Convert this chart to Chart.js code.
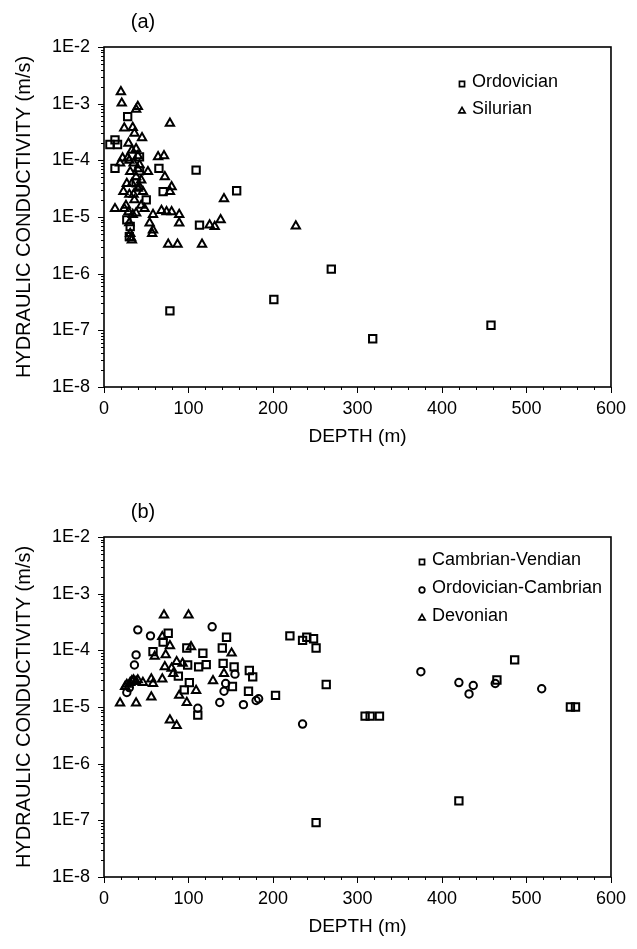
<!DOCTYPE html>
<html><head><meta charset="utf-8">
<script src="https://cdn.jsdelivr.net/npm/chart.js@4"></script>
<style>
html,body{margin:0;padding:0;background:#fff;}
.panel{position:absolute;left:0;width:637px;height:459px;}
</style></head><body>
<div class="panel" style="top:0"><canvas id="ca" width="637" height="459"></canvas></div>
<div class="panel" style="top:490px"><canvas id="cb" width="637" height="459"></canvas></div>
<script>
// ---------- text / ticks ----------
const panelLabels = ['(a)', '(b)'];
const yTickValues = [1e-8, 1e-7, 1e-6, 1e-5, 1e-4, 1e-3, 1e-2];
const yTickLabels = ['1E-8', '1E-7', '1E-6', '1E-5', '1E-4', '1E-3', '1E-2'];
const xTickValues = [0, 100, 200, 300, 400, 500, 600];
const xTitle = 'DEPTH (m)';
const yTitle = 'HYDRAULIC CONDUCTIVITY (m/s)';

// ---------- panel (a) ----------
const aOrdovicianDepth = [13, 7, 16, 28, 13, 42, 65, 109, 50, 70, 27, 31, 30, 113, 157, 78, 201, 269, 318, 458, 38, 42];
const aOrdovicianK = [2.3e-4, 1.9e-4, 1.9e-4, 5.9e-4, 7.2e-5, 1.15e-4, 7.2e-5, 6.7e-5, 2.0e-5, 2.8e-5, 8.9e-6, 6.8e-6, 4.5e-6, 7.2e-6, 2.9e-5, 2.2e-7, 3.5e-7, 1.2e-6, 7.1e-8, 1.23e-7, 4.0e-5, 6.5e-5];

const aSilurianDepth = [20, 21, 40, 38, 78, 24, 34, 36, 29, 33, 38, 40, 19, 64, 71, 72, 35, 42, 52, 31, 38, 33, 42, 27, 23, 35, 46, 36, 80, 78, 13, 24, 29, 38, 48, 58, 68, 74, 80, 89, 89, 54, 58, 57, 31, 33, 125, 131, 138, 142, 76, 87, 116, 227, 32, 28, 30, 40, 44, 30, 40, 26, 44, 34, 30, 45, 22];
const aSilurianK = [1.62e-3, 1.02e-3, 8.9e-4, 7.9e-4, 4.5e-4, 3.7e-4, 3.8e-4, 3.0e-4, 2.0e-4, 1.5e-4, 1.6e-4, 1.2e-4, 8.9e-5, 1.15e-4, 1.2e-4, 5.1e-5, 8.9e-5, 8.3e-5, 6.3e-5, 6.3e-5, 5.1e-5, 3.9e-5, 3.4e-5, 3.9e-5, 2.8e-5, 2.5e-5, 2.8e-5, 2.0e-5, 3.4e-5, 2.8e-5, 1.4e-5, 1.4e-5, 1.23e-5, 1.17e-5, 1.4e-5, 1.1e-5, 1.3e-5, 1.23e-5, 1.23e-5, 1.1e-5, 7.8e-6, 7.8e-6, 5.9e-6, 5.1e-6, 5.1e-6, 3.9e-6, 7.2e-6, 6.8e-6, 8.9e-6, 2.1e-5, 3.3e-6, 3.3e-6, 3.3e-6, 6.9e-6, 4.3e-6, 1.1e-4, 1.0e-4, 7.1e-5, 4.5e-5, 2.5e-5, 3.2e-5, 1.6e-5, 1.6e-5, 1.1e-5, 7.9e-6, 2.5e-4, 1.1e-4];

// ---------- panel (b) ----------
const bCambVendDepth = [76, 70, 58, 98, 117, 145, 140, 121, 112, 99, 141, 154, 172, 176, 88, 101, 95, 152, 171, 111, 220, 235, 240, 248, 251, 263, 203, 486, 251, 309, 315, 326, 420, 465, 552, 558];
const bCambVendK = [2.0e-4, 1.4e-4, 9.5e-5, 1.1e-4, 8.9e-5, 1.7e-4, 1.1e-4, 5.6e-5, 5.1e-5, 5.5e-5, 5.9e-5, 5.1e-5, 4.4e-5, 3.4e-5, 3.5e-5, 2.7e-5, 2.0e-5, 2.3e-5, 1.9e-5, 7.2e-6, 1.8e-4, 1.5e-4, 1.7e-4, 1.6e-4, 1.1e-4, 2.5e-5, 1.6e-5, 6.8e-5, 9.1e-8, 6.9e-6, 6.9e-6, 6.9e-6, 2.2e-7, 3.0e-5, 1.0e-5, 1.0e-5];

const bOrdCambDepth = [40, 55, 128, 38, 36, 155, 144, 142, 137, 165, 180, 27, 111, 183, 375, 235, 420, 432, 437, 463, 518, 30];
const bOrdCambK = [2.3e-4, 1.8e-4, 2.6e-4, 8.3e-5, 5.5e-5, 3.8e-5, 2.6e-5, 1.9e-5, 1.2e-5, 1.1e-5, 1.3e-5, 1.8e-5, 9.5e-6, 1.4e-5, 4.2e-5, 5.0e-6, 2.7e-5, 1.7e-5, 2.4e-5, 2.6e-5, 2.1e-5, 2.2e-5];

const bDevonianDepth = [71, 100, 69, 78, 73, 60, 103, 151, 72, 80, 82, 86, 93, 31, 38, 46, 56, 58, 69, 129, 142, 109, 89, 98, 56, 19, 38, 78, 86, 25, 33, 35, 40, 27];
const bDevonianK = [4.2e-4, 4.2e-4, 1.74e-4, 1.2e-4, 8.3e-5, 7.8e-5, 1.15e-4, 8.9e-5, 5.1e-5, 4.8e-5, 3.9e-5, 6.3e-5, 5.9e-5, 2.7e-5, 2.8e-5, 2.7e-5, 3.1e-5, 2.6e-5, 3.1e-5, 2.9e-5, 3.9e-5, 1.95e-5, 1.6e-5, 1.2e-5, 1.5e-5, 1.17e-5, 1.17e-5, 5.9e-6, 4.7e-6, 2.3e-5, 2.9e-5, 3.0e-5, 3.0e-5, 2.5e-5];

// ---------- drawing ----------
const FONT = '"Liberation Sans", Arial, Helvetica, sans-serif';

function pts(d, k) { return d.map((x, i) => ({ x: x, y: k[i] })); }

const markerStyle = {
  rect: { r: 5.2, lr: 3.6 },
  circle: { r: 3.7, lr: 2.8 },
  triangle: { r: 4.8, lr: 3.6 }
};

function drawMarker(ctx, style, x, y, r) {
  ctx.beginPath();
  if (style === 'rect') {
    const s = r * Math.SQRT1_2;
    ctx.rect(x - s, y - s, 2 * s, 2 * s);
  } else if (style === 'circle') {
    ctx.arc(x, y, r, 0, Math.PI * 2);
  } else {
    ctx.moveTo(x, y - r);
    ctx.lineTo(x + r * 0.866, y + r * 0.5);
    ctx.lineTo(x - r * 0.866, y + r * 0.5);
    ctx.closePath();
  }
  ctx.stroke();
}

const framePlugin = {
  id: 'frame',
  afterDraw(chart, args, opts) {
    const ctx = chart.ctx, a = chart.chartArea, xs = chart.scales.x, ys = chart.scales.y;
    ctx.save();
    ctx.strokeStyle = '#000';
    ctx.lineWidth = 1.6;
    ctx.strokeRect(a.left, a.top, a.right - a.left, a.bottom - a.top);
    ctx.lineWidth = 1;
    ctx.beginPath();
    for (let e = -8; e <= -2; e++) {
      for (let m = 1; m <= 9; m++) {
        if (e === -2 && m > 1) break;
        const py = Math.round(ys.getPixelForValue(m * Math.pow(10, e))) + 0.5;
        const len = m === 1 ? 6 : 3;
        ctx.moveTo(a.left - len, py); ctx.lineTo(a.left, py);
      }
    }
    for (let v = xs.min; v <= xs.max; v += 20) {
      const px = Math.round(xs.getPixelForValue(v)) + 0.5;
      const len = v % 100 === 0 ? 6 : 3;
      ctx.moveTo(px, a.bottom); ctx.lineTo(px, a.bottom + len);
    }
    ctx.stroke();
    // panel label
    ctx.fillStyle = '#000';
    ctx.font = '20px ' + FONT;
    ctx.textAlign = 'center';
    ctx.textBaseline = 'middle';
    ctx.fillText(opts.label, a.left + 39, 22);
    // legend
    ctx.font = '18px ' + FONT;
    ctx.textAlign = 'left';
    chart.data.datasets.forEach((ds, i) => {
      const ly = opts.legendY + i * opts.legendGap;
      ctx.lineWidth = 1.7;
      drawMarker(ctx, ds.pointStyle, opts.legendX, ly + 2, markerStyle[ds.pointStyle].lr);
      ctx.fillText(ds.label, opts.legendX + 10, ly);
    });
    ctx.restore();
  }
};

function ds(label, style, d, k) {
  return {
    label: label,
    data: pts(d, k),
    pointStyle: style,
    pointRadius: markerStyle[style].r,
    pointHoverRadius: markerStyle[style].r,
    pointBorderWidth: 2,
    borderColor: '#000',
    backgroundColor: 'rgba(0,0,0,0)',
    pointBackgroundColor: 'rgba(0,0,0,0)',
    showLine: false
  };
}

function makeChart(id, datasets, label, legendX, legendY, legendGap) {
  return new Chart(document.getElementById(id), {
    type: 'scatter',
    data: { datasets: datasets },
    plugins: [framePlugin],
    options: {
      responsive: false,
      animation: false,
      devicePixelRatio: 1,
      events: [],
      layout: { padding: { top: 47, right: 20, left: 0, bottom: 0 } },
      plugins: {
        legend: { display: false },
        tooltip: { enabled: false },
        frame: { label: label, legendX: legendX, legendY: legendY, legendGap: legendGap }
      },
      scales: {
        x: {
          type: 'linear', min: 0, max: 600,
          afterBuildTicks: s => { s.ticks = xTickValues.map(v => ({ value: v })); },
          afterFit: s => { s.height = 72; },
          grid: { display: false, drawTicks: false },
          border: { display: false },
          ticks: { color: '#000', font: { family: FONT, size: 18 }, padding: 11, maxRotation: 0, autoSkip: false },
          title: { display: true, text: xTitle, color: '#000', font: { family: FONT, size: 19 }, padding: { top: 0, bottom: 11 } }
        },
        y: {
          type: 'logarithmic', min: 1e-8, max: 1e-2,
          afterBuildTicks: s => { s.ticks = yTickValues.map(v => ({ value: v })); },
          afterFit: s => { s.width = 104; },
          grid: { display: false, drawTicks: false },
          border: { display: false },
          ticks: { color: '#000', font: { family: FONT, size: 18 }, padding: 14, autoSkip: false,
                   callback: (v, i) => yTickLabels[i] },
          title: { display: true, text: yTitle, color: '#000', font: { family: FONT, size: 20 }, padding: { top: 12, bottom: 0 } }
        }
      }
    }
  });
}

makeChart('ca', [
  ds('Ordovician', 'rect', aOrdovicianDepth, aOrdovicianK),
  ds('Silurian', 'triangle', aSilurianDepth, aSilurianK)
], panelLabels[0], 462, 82, 27);

makeChart('cb', [
  ds('Cambrian-Vendian', 'rect', bCambVendDepth, bCambVendK),
  ds('Ordovician-Cambrian', 'circle', bOrdCambDepth, bOrdCambK),
  ds('Devonian', 'triangle', bDevonianDepth, bDevonianK)
], panelLabels[1], 422, 70, 28);
</script>
</body></html>
